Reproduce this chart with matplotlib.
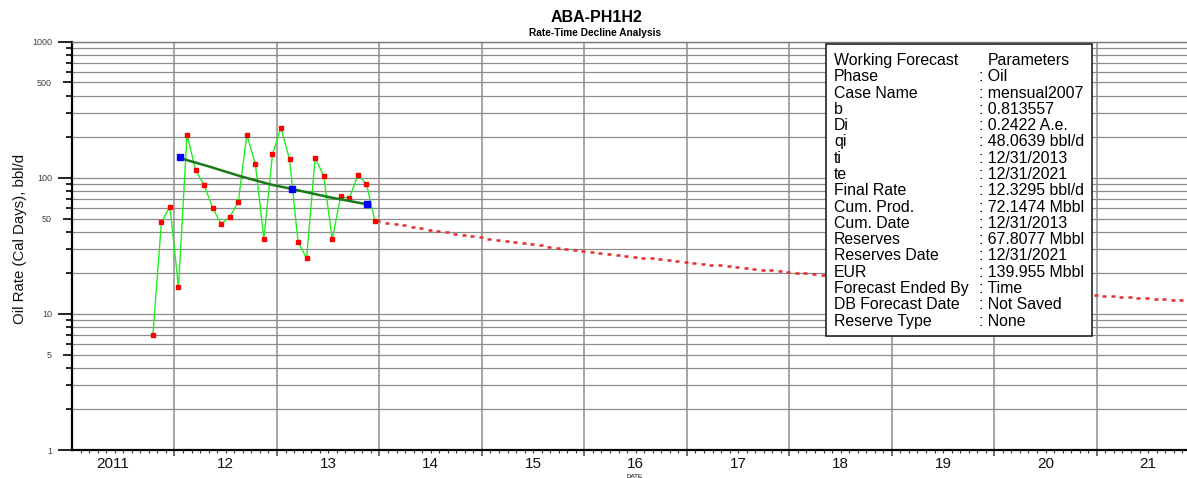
import numpy as np
import pandas as pd
import matplotlib
matplotlib.use('Agg')
import matplotlib.pyplot as plt
from matplotlib.ticker import FixedLocator, NullFormatter, FixedFormatter
from matplotlib.patches import Rectangle

plt.rcParams['font.family'] = ['Liberation Sans', 'DejaVu Sans']

# ---- monthly oil rate history (bbl/d), Oct 2011 .. Dec 2013 ----
prod_months = pd.period_range('2011-10', '2013-12', freq='M')
oil_rate = [7.0, 47.2, 61.1, 15.7, 206.5, 113.7, 88.2, 60.1, 45.4, 51.4,
            66.2, 206.5, 126.5, 35.4, 148.3, 232.5, 136.3, 33.8, 25.6, 139.3,
            103.3, 35.4, 72.9, 70.5, 104.5, 90.2, 48.3]

# ---- fitted decline line through history ----
fit_t = [2012.05, 2012.086, 2012.346, 2012.639, 2012.932, 2013.149, 2013.517, 2013.881]
fit_q = [141.0, 137.0, 120.2, 102.7, 89.3, 82.5, 71.7, 63.7]
fit_anchor_t = [2012.05, 2013.149, 2013.881]
fit_anchor_q = [141.0, 82.5, 63.7]

# ---- working forecast parameters ----
qi = 48.0639          # bbl/d at ti
b = 0.813557
di_eff = 0.2422       # annual effective
t_start = 2014.0      # 12/31/2013
n_fcst_months = 96    # to 12/31/2021

params = [
    ('Working Forecast', 'Parameters'),
    ('Phase', ': Oil'),
    ('Case Name', ': mensual2007'),
    ('b', ': 0.813557'),
    ('Di', ': 0.2422 A.e.'),
    ('qi', ': 48.0639 bbl/d'),
    ('ti', ': 12/31/2013'),
    ('te', ': 12/31/2021'),
    ('Final Rate', ': 12.3295 bbl/d'),
    ('Cum. Prod.', ': 72.1474 Mbbl'),
    ('Cum. Date', ': 12/31/2013'),
    ('Reserves', ': 67.8077 Mbbl'),
    ('Reserves Date', ': 12/31/2021'),
    ('EUR', ': 139.955 Mbbl'),
    ('Forecast Ended By', ': Time'),
    ('DB Forecast Date', ': Not Saved'),
    ('Reserve Type', ': None'),
]

year_labels = ['2011', '12', '13', '14', '15', '16', '17', '18', '19', '20', '21']
year_label_pos = [2011.4] + [y + 0.5 for y in range(2012, 2022)]

# history time axis (mid-month decimal years)
t_hist = np.array([p.year + (p.month - 1 + 0.47) / 12 for p in prod_months])

# Arps hyperbolic forecast from the stated parameters (effective -> nominal Di)
di_nom = ((1 - di_eff) ** (-b) - 1) / b
k = np.arange(0, n_fcst_months + 1)
t_fcst = t_start + k / 12 - 0.01
q_fcst = qi / (1 + b * di_nom * k / 12) ** (1 / b)

W, H = 1187, 478
fig = plt.figure(figsize=(W / 100, H / 100), dpi=100)
ax = fig.add_axes([72 / W, 28 / H, 1 - 72 / W, 408.5 / H])
ax.set_yscale('log')
ax.set_ylim(1, 1000)
ax.set_xlim(2011.0, 2021.88)

# grid
for yr in range(2012, 2022):
    ax.axvline(yr, color='#a6a6a6', lw=1.4, zorder=1)
minor_vals = [m * 10 ** e for e in range(0, 3) for m in range(2, 10)]
for v in minor_vals + [10, 100, 1000]:
    ax.axhline(v, color='#8c8c8c', lw=0.9, zorder=1)

# history
ax.plot(t_hist, oil_rate, color='#22ee22', lw=1.0, zorder=3)
ax.plot(t_hist, oil_rate, ls='none', marker='s', ms=2.6, color='#ff0000', mec='#ff0000', zorder=4)

# fitted trend
ax.plot(fit_t, fit_q, color='#1a7a1a', lw=1.8, zorder=5)
ax.plot(fit_anchor_t, fit_anchor_q, ls='none', marker='s', ms=4.5, color='#0000ff', zorder=6)

# forecast
ax.plot([t_hist[-1], t_start], [oil_rate[-1], qi], color='#dd2222', lw=1.2, zorder=3)
ax.plot(t_fcst, q_fcst, ls='none', marker='_', ms=3.4, mew=1.8, color='#e03030', zorder=3)

# y axis ticks
ax.yaxis.set_major_locator(FixedLocator([1, 10, 100, 1000]))
ax.yaxis.set_major_formatter(FixedFormatter(['1', '10', '100', '1000']))
ax.yaxis.set_minor_locator(FixedLocator(minor_vals))
ax.yaxis.set_minor_formatter(FixedFormatter(['5' if v == 5 else '50' if v == 50 else '500' if v == 500 else ''
                                             for v in minor_vals]))
ax.tick_params(axis='y', which='major', length=10, width=1.2, pad=4.4, labelsize=6.5,
               labelcolor='#404040', color='black')
ax.tick_params(axis='y', which='minor', length=4.3, width=1.2, pad=10, labelsize=6.5,
               labelcolor='#404040', color='black')
for tick, loc in zip(ax.yaxis.get_minor_ticks(), minor_vals):
    if loc in (5, 50, 500):
        tick.tick1line.set_markersize(6.5)

# x axis ticks: years and months
ax.xaxis.set_major_locator(FixedLocator(list(range(2012, 2022))))
ax.xaxis.set_major_formatter(NullFormatter())
ax.xaxis.set_minor_locator(FixedLocator([2011 + m / 12 for m in range(0, 132) if m % 12]))
ax.tick_params(axis='x', which='major', length=4.5, width=1.2, color='#555555')
ax.tick_params(axis='x', which='minor', length=2, width=0.8, color='#333333')
for lab, pos in zip(year_labels, year_label_pos):
    ax.text(pos, -0.0448, lab, transform=ax.get_xaxis_transform(), ha='center', va='baseline',
            fontsize=11, color='#111111')

for s in ['left', 'bottom']:
    ax.spines[s].set_linewidth(1.6)
    ax.spines[s].set_color('black')
ax.spines['right'].set_visible(False)
ax.spines['top'].set_color('#777777')
ax.spines['top'].set_linewidth(1.0)

fig.text(20 / W, 1 - 239 / H, 'Oil Rate (Cal Days), bbl/d', rotation=90, fontsize=10.8,
         ha='center', va='center', color='#111111')
fig.text(635 / W, 1 - 476 / H, 'DATE', fontsize=4.5, ha='center', va='center')

# titles
fig.text(597 / W, 1 - 18 / H, 'ABA-PH1H2', fontsize=11.5, fontweight='bold',
         ha='center', va='center')
fig.text(595 / W, 1 - 33 / H, 'Rate-Time Decline Analysis', fontsize=7.3,
         fontweight='bold', ha='center', va='center')

# forecast parameter box
x0, x1 = 826 / W, 1092 / W
y_top, y_bot = 1 - 44 / H, 1 - 336 / H
fig.patches.append(Rectangle((x0, y_bot), x1 - x0, y_top - y_bot, transform=fig.transFigure,
                             facecolor='white', edgecolor='#222222', lw=1.2, zorder=10))
row_h = 16.29
for i, (lab, val) in enumerate(params):
    yb = 1 - (65.0 + i * row_h) / H
    fig.text(834 / W, yb, lab, fontsize=11.4, ha='left', va='baseline', zorder=11)
    vx = 988 / W if i == 0 else 979 / W
    fig.text(vx, yb, val, fontsize=11.4, ha='left', va='baseline', zorder=11)

fig.savefig('out.png', dpi=100)
